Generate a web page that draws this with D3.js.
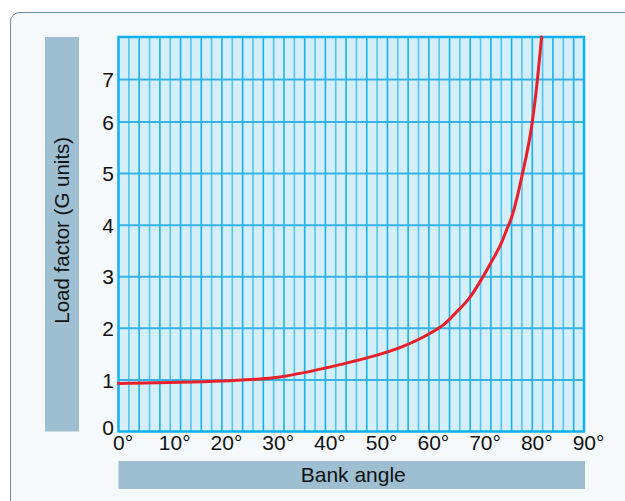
<!DOCTYPE html>
<html lang="en">
<head>
  <meta charset="utf-8">
  <title>Load factor vs bank angle</title>
  <script src="https://cdn.jsdelivr.net/npm/d3@7"></script>
  <style>
    html, body { margin: 0; padding: 0; background: #fff; }
    svg { display: block; font-family: "Liberation Sans", Arial, Helvetica, sans-serif; }
  </style>
</head>
<body>
<svg id="chart" width="625" height="501"></svg>

<script>
// data
var bankAngles = [0, 10, 20, 30, 40, 45, 50, 55, 60, 63, 65, 68, 70, 72, 74, 75, 76, 78, 80, 81, 81.8];
var loadFactors = [0.93, 0.95, 0.98, 1.04, 1.23, 1.35, 1.48, 1.65, 1.89, 2.08, 2.28, 2.61, 2.92, 3.27, 3.65, 3.9, 4.15, 4.95, 6.0, 7.0, 8.0];
var xTicks = [0, 10, 20, 30, 40, 50, 60, 70, 80, 90];
var yTicks = [0, 1, 2, 3, 4, 5, 6, 7];
var xTitle = "Bank angle";
var yTitle = "Load factor (G units)";

var svg = d3.select("#chart");

// plot box
var plotL = 118.5, plotR = 584, plotT = 37, plotB = 431.5;

var x = d3.scaleLinear().domain([0, 90]).range([plotL, plotR]);
// top of the original chart is squeezed above 6 G
var y = d3.scaleLinear().domain([0, 6, 8]).range([plotB, 122, plotT]);

// card
svg.append("rect")
  .attr("x", 10.5).attr("y", 12.5)
  .attr("width", 640).attr("height", 520)
  .attr("rx", 9)
  .attr("fill", "#f5f9fc")
  .attr("stroke", "#6f8d9d")
  .attr("stroke-width", 1);

// title bars
svg.append("rect")
  .attr("x", 45).attr("y", plotT)
  .attr("width", 34).attr("height", plotB - plotT)
  .attr("fill", "#9dbfd1");

svg.append("rect")
  .attr("x", plotL).attr("y", 461)
  .attr("width", plotR - plotL + 1).attr("height", 28)
  .attr("fill", "#9dbfd1");

svg.append("text")
  .attr("transform", "translate(69," + ((plotT + plotB) / 2 - 4) + ") rotate(-90)")
  .attr("text-anchor", "middle")
  .attr("font-size", 20.5)
  .attr("fill", "#111")
  .text(yTitle);

svg.append("text")
  .attr("x", (plotL + plotR) / 2 + 2)
  .attr("y", 482)
  .attr("text-anchor", "middle")
  .attr("font-size", 21)
  .attr("fill", "#111")
  .text(xTitle);

// plot background
svg.append("rect")
  .attr("x", plotL).attr("y", plotT)
  .attr("width", plotR - plotL).attr("height", plotB - plotT)
  .attr("fill", "#d4eefa");

// vertical grid every 2 degrees
var vGrid = d3.range(2, 90, 2);
svg.append("g").selectAll("line")
  .data(vGrid)
  .enter().append("line")
  .attr("x1", function(d) { return x(d); })
  .attr("x2", function(d) { return x(d); })
  .attr("y1", plotT).attr("y2", plotB)
  .attr("stroke", function(d, i) { return i % 2 ? "#1ab2ec" : "#55c5f1"; })
  .attr("stroke-width", 1.6);

// horizontal grid at each G
svg.append("g").selectAll("line")
  .data(yTicks.slice(1))
  .enter().append("line")
  .attr("x1", plotL).attr("x2", plotR)
  .attr("y1", function(d) { return y(d); })
  .attr("y2", function(d) { return y(d); })
  .attr("stroke", "#35b3e7")
  .attr("stroke-width", 2);

// frame
svg.append("rect")
  .attr("x", plotL).attr("y", plotT)
  .attr("width", plotR - plotL).attr("height", plotB - plotT)
  .attr("fill", "none")
  .attr("stroke", "#0eb0ef")
  .attr("stroke-width", 2.5);

// curve
var points = bankAngles.map(function(a, i) { return [a, loadFactors[i]]; });
var line = d3.line()
  .x(function(d) { return x(d[0]); })
  .y(function(d) { return y(d[1]); })
  .curve(d3.curveMonotoneX);

svg.append("path")
  .datum(points)
  .attr("d", line)
  .attr("fill", "none")
  .attr("stroke", "#e8202a")
  .attr("stroke-width", 3)
  .attr("stroke-linecap", "round");

// axes
var yAxis = svg.append("g")
  .attr("transform", "translate(" + plotL + ",0)")
  .call(d3.axisLeft(y).tickValues(yTicks).tickSize(0).tickPadding(4.5).tickFormat(d3.format("d")))
  .attr("font-family", null)
  .attr("font-size", 21);
yAxis.select(".domain").remove();
yAxis.selectAll("text")
  .attr("fill", "#111")
  .attr("dy", function(d) { return d === 0 ? "0.16em" : "0.34em"; });

var xAxis = svg.append("g")
  .attr("transform", "translate(0," + plotB + ")")
  .call(d3.axisBottom(x).tickValues(xTicks).tickSize(0).tickPadding(4).tickFormat(function(d) { return d + "°"; }))
  .attr("font-family", null)
  .attr("font-size", 21);
xAxis.select(".domain").remove();
xAxis.selectAll("text")
  .attr("fill", "#111")
  .attr("dx", 4);
</script>
</body>
</html>
